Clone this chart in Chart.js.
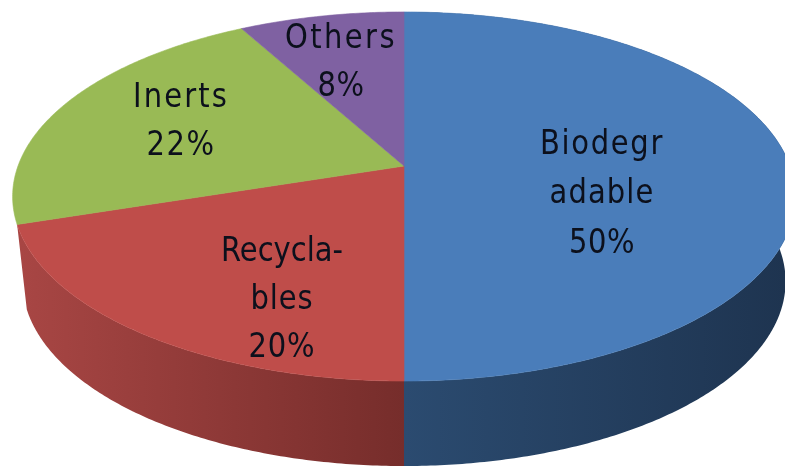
<!DOCTYPE html>
<html><head><meta charset="utf-8">
<style>html,body{margin:0;padding:0;background:#fff;overflow:hidden}canvas{display:block;filter:blur(0.7px)}</style>
<script src="https://cdn.jsdelivr.net/npm/chart.js@4"></script></head>
<body><canvas id="c" width="785" height="468"></canvas>
<script>
const categories = ['Biodegradable', 'Recyclables', 'Inerts', 'Others'];
const values = [50, 20, 22, 8];
const labelLines = [['Biodegr', 'adable', '50%'], ['Recycla-', 'bles', '20%'], ['Inerts', '22%'], ['Others', '8%']];
const topColors = ['#4a7dba', '#bf4d4a', '#99ba55', '#7f61a2'];
const wallLight = ['#2b4b70', '#a84644', '#000', '#000'];
const wallDark = ['#1e3450', '#762d2b', '#000', '#000'];
const labelCenters = [[602, [145, 194, 244]], [282, [252, 300, 348]], [181, [98, 146]], [341, [39, 87]]];
const labelWidths = [[124, 105, 66], [122, 63, 67], [96, 69], [112, 47]];

const view = { cx: 404, cy: 166, alpha: 179.5, beta: 386, p: -0.1653, depth: 85, shrink: 0.975 };
function rim(a) {
  const u = Math.cos(a), v = Math.sin(a), w = 1 + view.p * v;
  return [view.cx + view.beta * u / w, view.cy + view.alpha * v / w];
}
function rimPoints(s, e) {
  const n = Math.max(2, Math.ceil((e - s) / 0.01)), pts = [];
  for (let i = 0; i <= n; i++) pts.push(rim(s + (e - s) * i / n));
  return pts;
}
const perspectivePie = {
  id: 'perspectivePie',
  beforeDatasetsDraw(chart) {
    const ctx = chart.ctx, arcs = chart.getDatasetMeta(0).data;
    ctx.save();
    arcs.forEach((arc, i) => {
      const mid = (arc.startAngle + arc.endAngle) / 2;
      if (Math.sin(mid) < -0.1) return;
      const pts = rimPoints(arc.startAngle, arc.endAngle);
      const g = ctx.createLinearGradient(i === 1 ? 20 : 404, 0, i === 1 ? 404 : 785, 0);
      g.addColorStop(0, wallLight[i]);
      g.addColorStop(1, wallDark[i]);
      ctx.beginPath();
      pts.forEach((p, k) => k ? ctx.lineTo(p[0], p[1]) : ctx.moveTo(p[0], p[1]));
      pts.slice().reverse().forEach(p => ctx.lineTo(view.cx + (p[0] - view.cx) * view.shrink, p[1] + view.depth));
      ctx.closePath();
      ctx.fillStyle = g; ctx.fill();
    });
    arcs.forEach((arc, i) => {
      ctx.beginPath();
      ctx.moveTo(view.cx, view.cy);
      rimPoints(arc.startAngle, arc.endAngle).forEach(p => ctx.lineTo(p[0], p[1]));
      ctx.closePath();
      ctx.fillStyle = topColors[i]; ctx.fill();
      ctx.strokeStyle = topColors[i]; ctx.lineWidth = 0.6; ctx.stroke();
    });
    ctx.fillStyle = '#0c101c';
    ctx.font = '29px "DejaVu Sans"';
    ctx.textAlign = 'center'; ctx.textBaseline = 'middle';
    labelLines.forEach((lines, i) => lines.forEach((t, k) => {
      ctx.letterSpacing = '0px';
      const sp = (labelWidths[i][k] - ctx.measureText(t).width) / t.length;
      ctx.letterSpacing = sp.toFixed(2) + 'px';
      ctx.save();
      ctx.translate(labelCenters[i][0], labelCenters[i][1][k]);
      ctx.scale(1, 1.16);
      ctx.fillText(t, 0, 0);
      ctx.restore();
    }));
    ctx.restore();
    return false;
  }
};
new Chart(document.getElementById('c'), {
  type: 'pie',
  data: { labels: categories, datasets: [{ data: values, backgroundColor: topColors }] },
  options: { responsive: false, animation: false, plugins: { legend: { display: false }, tooltip: { enabled: false } } },
  plugins: [perspectivePie]
});
</script></body></html>
